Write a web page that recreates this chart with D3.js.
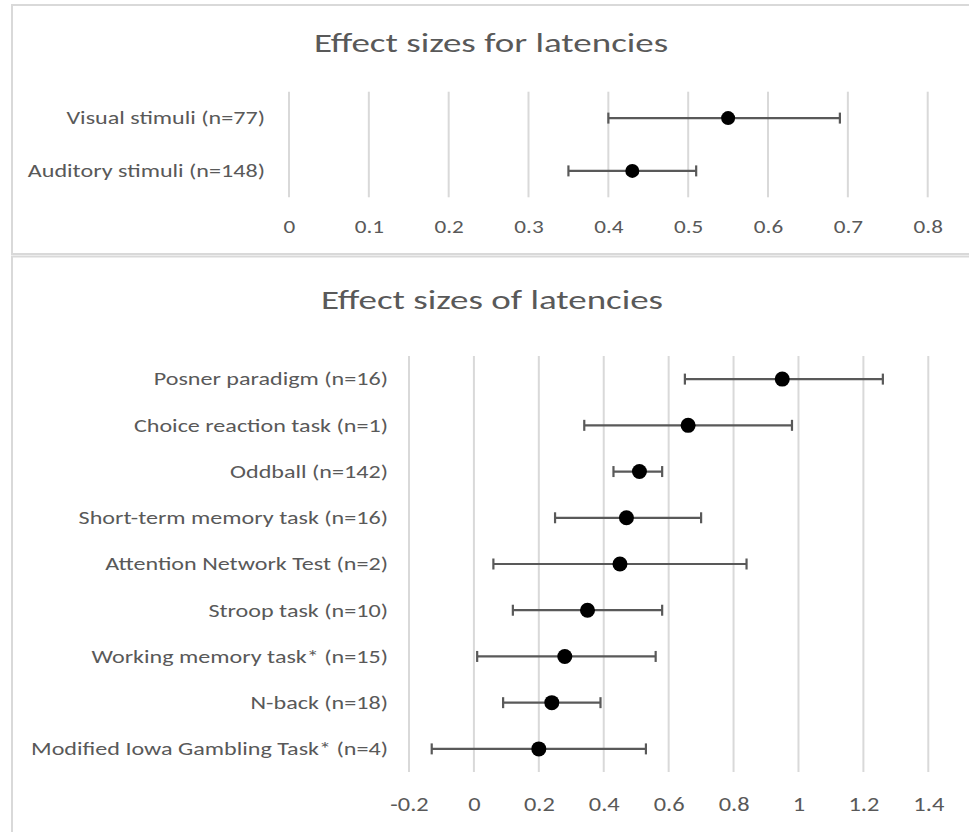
<!DOCTYPE html>
<html>
<head>
<meta charset="utf-8">
<script src="https://cdn.jsdelivr.net/npm/d3@7"></script>
<style>
  html, body { margin: 0; padding: 0; background: #ffffff; }
  svg { display: block; }
  text { font-family: Carlito, Calibri, Lato, "Open Sans", sans-serif; fill: #595959; }
</style>
</head>
<body>
<svg id="chart" width="969" height="832"></svg>
<script>
// ---- Data: top panel ----
const topTitle = "Effect sizes for latencies";
const topCategories = ["Visual stimuli (n=77)", "Auditory stimuli (n=148)"];
const topEffect = [0.55, 0.43];
const topLower  = [0.40, 0.35];
const topUpper  = [0.69, 0.51];
const topTicks  = [0, 0.1, 0.2, 0.3, 0.4, 0.5, 0.6, 0.7, 0.8];

// ---- Data: bottom panel ----
const bottomTitle = "Effect sizes of latencies";
const bottomCategories = [
  "Posner paradigm (n=16)",
  "Choice reaction task (n=1)",
  "Oddball (n=142)",
  "Short-term memory task (n=16)",
  "Attention Network Test (n=2)",
  "Stroop task (n=10)",
  "Working memory task* (n=15)",
  "N-back (n=18)",
  "Modified Iowa Gambling Task* (n=4)"
];
const bottomEffect = [0.95, 0.66, 0.51, 0.47, 0.45, 0.35, 0.28, 0.24, 0.20];
const bottomLower  = [0.65, 0.34, 0.43, 0.25, 0.06, 0.12, 0.01, 0.09, -0.13];
const bottomUpper  = [1.26, 0.98, 0.58, 0.70, 0.84, 0.58, 0.56, 0.39, 0.53];
const bottomTicks  = [-0.2, 0, 0.2, 0.4, 0.6, 0.8, 1, 1.2, 1.4];

const svg = d3.select("#chart");
const fmt = d => String(+d.toFixed(2));
const FONT = "Carlito, Calibri, Lato, 'Open Sans', sans-serif";

// widen glyphs horizontally around the text anchor (x = 0)
function widen(sel, f) {
  sel.attr("transform", `scale(${f},1)`);
}

// panel frames
svg.append("rect").attr("x", 12).attr("y", 5).attr("width", 970).attr("height", 249)
  .attr("fill", "#fff").attr("stroke", "#d9d9d9").attr("stroke-width", 2);
svg.append("rect").attr("x", 12).attr("y", 256.5).attr("width", 970).attr("height", 600)
  .attr("fill", "#fff").attr("stroke", "#d9d9d9").attr("stroke-width", 2);

function panel(cfg) {
  const g = svg.append("g");
  const x = d3.scaleLinear().domain(cfg.domain).range(cfg.xRange);
  const y = d3.scaleBand().domain(cfg.categories).range(cfg.yRange).paddingInner(0).paddingOuter(0);

  // title
  g.append("g").attr("transform", `translate(${cfg.titleX},${cfg.titleY})`)
    .append("text").attr("x", 0).attr("y", 0)
    .attr("text-anchor", "middle").attr("font-size", cfg.titleSize).text(cfg.title)
    .call(widen, cfg.titleStretch);

  // gridlines
  g.append("g").selectAll("line").data(cfg.ticks).join("line")
    .attr("x1", d => x(d)).attr("x2", d => x(d))
    .attr("y1", cfg.yRange[0]).attr("y2", cfg.yRange[1])
    .attr("stroke", "#d9d9d9").attr("stroke-width", 2);

  // x axis labels
  const ax = d3.axisBottom(x).tickValues(cfg.ticks).tickSize(0).tickPadding(0).tickFormat(fmt);
  const axG = g.append("g").attr("transform", `translate(0,${cfg.tickY})`).call(ax);
  axG.select(".domain").remove();
  axG.selectAll("text").attr("font-size", cfg.tickSize).attr("fill", "#595959")
    .attr("font-family", FONT).attr("dy", "0.35em").attr("y", 0).attr("x", 0)
    .call(widen, cfg.tickStretch);

  // category labels
  const ay = d3.axisLeft(y).tickSize(0).tickPadding(0);
  const ayG = g.append("g").attr("transform", `translate(${cfg.labelX},0)`).call(ay);
  ayG.select(".domain").remove();
  ayG.selectAll("text").attr("font-size", cfg.labelSize).attr("fill", "#595959")
    .attr("font-family", FONT).attr("dy", "0.35em").attr("x", 0)
    .call(widen, cfg.labelStretch);

  const rows = cfg.categories.map((c, i) => ({c, e: cfg.effect[i], lo: cfg.lower[i], hi: cfg.upper[i]}));
  const cy = d => y(d.c) + y.bandwidth() / 2;
  const eb = g.append("g").attr("stroke", "#595959").attr("stroke-width", 2.2);
  eb.selectAll(".bar").data(rows).join("line")
    .attr("x1", d => x(d.lo)).attr("x2", d => x(d.hi))
    .attr("y1", cy).attr("y2", cy);
  eb.selectAll(".capL").data(rows).join("line")
    .attr("x1", d => x(d.lo)).attr("x2", d => x(d.lo))
    .attr("y1", d => cy(d) - cfg.cap).attr("y2", d => cy(d) + cfg.cap);
  eb.selectAll(".capR").data(rows).join("line")
    .attr("x1", d => x(d.hi)).attr("x2", d => x(d.hi))
    .attr("y1", d => cy(d) - cfg.cap).attr("y2", d => cy(d) + cfg.cap);

  g.append("g").selectAll("circle").data(rows).join("circle")
    .attr("cx", d => x(d.e)).attr("cy", cy).attr("r", cfg.r).attr("fill", "#000");
}

panel({
  title: topTitle, titleX: 491, titleY: 52, titleSize: 27, titleStretch: 1.37,
  categories: topCategories, effect: topEffect, lower: topLower, upper: topUpper,
  ticks: topTicks, domain: [0, 0.8], xRange: [289, 927.7], yRange: [91.7, 197.3],
  tickY: 226, tickSize: 19, tickStretch: 1.22,
  labelX: 265, labelSize: 18, labelStretch: 1.34, cap: 5.5, r: 7
});

panel({
  title: bottomTitle, titleX: 492, titleY: 309, titleSize: 27, titleStretch: 1.37,
  categories: bottomCategories, effect: bottomEffect, lower: bottomLower, upper: bottomUpper,
  ticks: bottomTicks, domain: [-0.2, 1.4], xRange: [409, 928.3], yRange: [356, 772],
  tickY: 804, tickSize: 20, tickStretch: 1.22,
  labelX: 388, labelSize: 18, labelStretch: 1.34, cap: 5.5, r: 7.5
});
</script>
</body>
</html>
